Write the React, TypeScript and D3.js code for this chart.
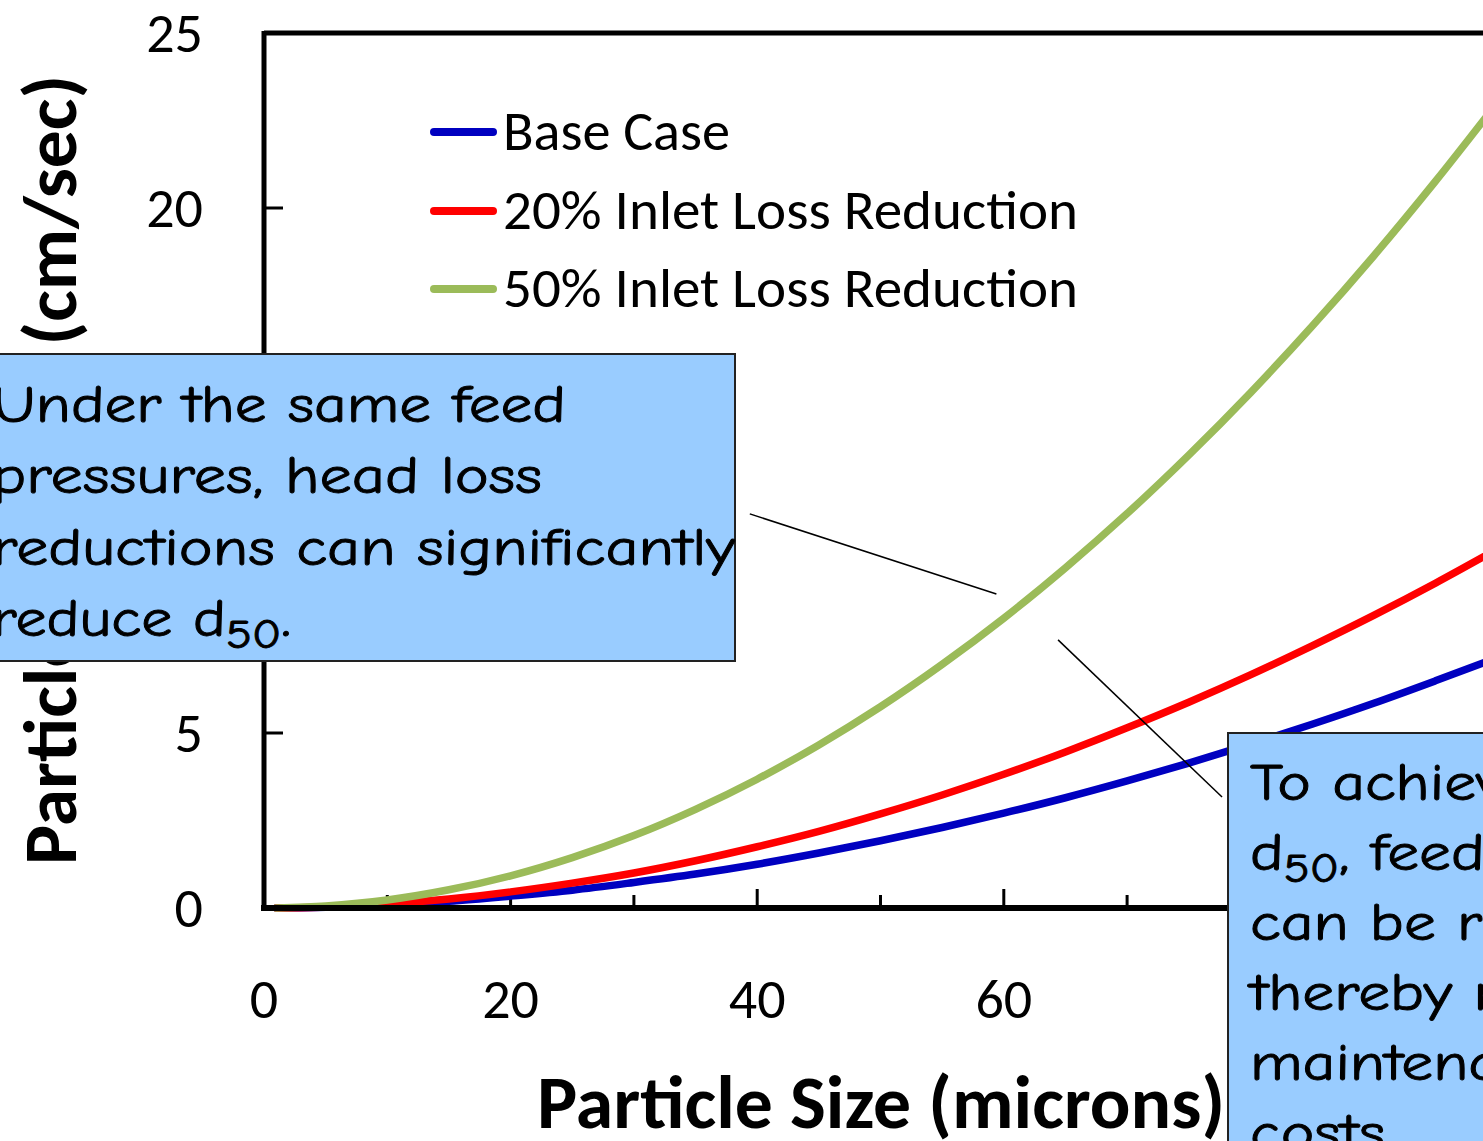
import React from "react";
import * as d3 from "d3";

// Particle size (microns) sampled along each curve
const particleSize = [1, 5, 10, 15, 20, 25, 30, 35, 40, 45, 50, 55, 60, 65, 70, 75, 80, 85, 90, 95, 100];
// Particle velocity (cm/sec) for each scenario
const baseCase = [0, 0.02, 0.09, 0.19, 0.34, 0.51, 0.73, 0.97, 1.25, 1.57, 1.92, 2.3, 2.71, 3.15, 3.63, 4.14, 4.68, 5.25, 5.85, 6.49, 7.15];
const inletLoss20 = [0, 0.03, 0.12, 0.26, 0.46, 0.71, 1.0, 1.35, 1.75, 2.19, 2.69, 3.23, 3.82, 4.46, 5.15, 5.88, 6.66, 7.49, 8.36, 9.28, 10.25];
const inletLoss50 = [0, 0.06, 0.23, 0.52, 0.92, 1.44, 2.07, 2.82, 3.68, 4.66, 5.75, 6.96, 8.28, 9.72, 11.27, 12.94, 14.72, 16.62, 18.63, 20.76, 23.0];

const seriesNames = ["Base Case", "20% Inlet Loss Reduction", "50% Inlet Loss Reduction"];
const seriesColors = ["#0000C0", "#FF0000", "#9BBB59"];

const xMajorTicks = [20, 40, 60, 80];
const xMinorTicks = [10, 30, 50, 70, 90];
// labelled ticks left uncovered by the callouts
const xTickLabels = [0, 20, 40, 60];
const yTicks = [5, 10, 15, 20];
const yTickLabels = [0, 5, 20, 25];

const xTitle = "Particle Size (microns)";
const yTitle = "Particle Velocity (cm/sec)";

const noteLeft = ["Under the same feed", "pressures, head loss", "reductions can significantly"];
const noteRight = ["To achieve the same", "d", "can be reduced,", "thereby reducing", "maintenance", "costs."];

const W = 1483;
const H = 1141;
const calibri = "Carlito, Calibri, Lato, 'Open Sans', sans-serif";
const comic = "'Comic Sans MS', 'Comic Neue', 'DejaVu Sans', sans-serif";
const noteStretch = 1.2;

export default function App() {
  const x = d3.scaleLinear().domain([0, 100]).range([264, 1497]);
  const y = d3.scaleLinear().domain([0, 25]).range([908, 33]);

  const series = [baseCase, inletLoss20, inletLoss50];
  const line = d3
    .line<[number, number]>()
    .x((d) => x(d[0]))
    .y((d) => y(d[1]))
    .curve(d3.curveMonotoneX);

  // callout leader lines, anchored in data units
  const leaders = [
    { x1: 39.4, y1: 11.26, x2: 59.4, y2: 8.97 },
    { x1: 64.4, y1: 7.66, x2: 77.7, y2: 3.17 },
  ];

  const legendY = [132, 211, 289];
  const legendWidths = [227, 575, 575];
  const leftWidths = [574, 550, 743];
  const noteStyle = {
    fontFamily: comic,
    fontSize: 53,
    fill: "#000",
    stroke: "#000",
    strokeWidth: 0.9,
  } as const;

  return (
    <svg
      width={W}
      height={H}
      style={{ position: "absolute", left: 0, top: 0, background: "#fff" }}
    >
      {/* plot frame: top edge and y axis */}
      <line x1={x(0)} x2={x(100)} y1={y(25)} y2={y(25)} stroke="#000" strokeWidth={5} />
      <line x1={x(0)} x2={x(0)} y1={y(25) - 2} y2={y(0)} stroke="#000" strokeWidth={5} />

      {/* y ticks */}
      {yTicks.map((t) => (
        <line key={"yt" + t} x1={x(0)} x2={x(0) + 19} y1={y(t)} y2={y(t)} stroke="#000" strokeWidth={3} />
      ))}
      {yTickLabels.map((t) => (
        <text
          key={"yl" + t}
          x={203}
          y={y(t) + 19}
          textAnchor="end"
          fontFamily={calibri}
          fontSize={56}
          fill="#000"
        >
          {t}
        </text>
      ))}

      {/* x ticks */}
      {xMajorTicks.map((t) => (
        <line key={"xt" + t} x1={x(t)} x2={x(t)} y1={y(0)} y2={y(0) - 19} stroke="#000" strokeWidth={3} />
      ))}
      {xMinorTicks.map((t) => (
        <line key={"xm" + t} x1={x(t)} x2={x(t)} y1={y(0)} y2={y(0) - 13} stroke="#000" strokeWidth={3} />
      ))}
      {xTickLabels.map((t) => (
        <text
          key={"xl" + t}
          x={x(t)}
          y={1018}
          textAnchor="middle"
          fontFamily={calibri}
          fontSize={56}
          fill="#000"
        >
          {t}
        </text>
      ))}

      {/* series curves */}
      {series.map((vals, i) => (
        <path
          key={"s" + i}
          d={line(particleSize.map((p, j) => [p, vals[j]] as [number, number])) || ""}
          fill="none"
          stroke={seriesColors[i]}
          strokeWidth={7.5}
          strokeLinecap="round"
        />
      ))}

      <line x1={x(0) - 3} x2={x(100)} y1={y(0)} y2={y(0)} stroke="#000" strokeWidth={6} />

      {/* legend */}
      {seriesNames.map((name, i) => (
        <g key={"lg" + i}>
          <line
            x1={434}
            x2={493}
            y1={legendY[i]}
            y2={legendY[i]}
            stroke={seriesColors[i]}
            strokeWidth={8}
            strokeLinecap="round"
          />
          <text
            x={503}
            y={legendY[i] + 18}
            fontFamily={calibri}
            fontSize={56}
            fill="#000"
            textLength={legendWidths[i]}
            lengthAdjust="spacingAndGlyphs"
          >
            {name}
          </text>
        </g>
      ))}

      {/* axis titles */}
      <text
        x={881}
        y={1128}
        textAnchor="middle"
        fontFamily={calibri}
        fontWeight="bold"
        fontSize={74}
        fill="#000"
        textLength={688}
        lengthAdjust="spacingAndGlyphs"
      >
        {xTitle}
      </text>
      <text
        transform="translate(76,470) rotate(-90)"
        textAnchor="middle"
        fontFamily={calibri}
        fontWeight="bold"
        fontSize={74}
        fill="#000"
        textLength={790}
        lengthAdjust="spacingAndGlyphs"
      >
        {yTitle}
      </text>

      {/* callout leaders */}
      {leaders.map((l, i) => (
        <line
          key={"ld" + i}
          x1={x(l.x1)}
          y1={y(l.y1)}
          x2={x(l.x2)}
          y2={y(l.y2)}
          stroke="#000"
          strokeWidth={1.5}
        />
      ))}

      {/* left callout */}
      <rect x={-10} y={354} width={745} height={307} fill="#99CCFF" stroke="#222" strokeWidth={2} />
      <g transform={`translate(-8,0) scale(${noteStretch},1)`}>
        {noteLeft.map((s, i) => (
          <text
            key={"nl" + i}
            x={0}
            y={422 + i * 71.5}
            {...noteStyle}
            textLength={leftWidths[i] / noteStretch}
            lengthAdjust="spacingAndGlyphs"
          >
            {s}
          </text>
        ))}
        <text x={0} y={636} {...noteStyle}>
          <tspan textLength={234 / noteStretch} lengthAdjust="spacingAndGlyphs">reduce d</tspan>
          <tspan fontSize={40} dy={12}>50</tspan>
          <tspan dy={-12}>.</tspan>
        </text>
      </g>

      {/* right callout */}
      <rect x={1228} y={733} width={270} height={420} fill="#99CCFF" stroke="#222" strokeWidth={2} />
      <g transform={`translate(1250,0) scale(${noteStretch},1)`}>
        {noteRight.map((s, i) =>
          i === 1 ? (
            <text key={"nr" + i} x={0} y={800 + i * 70} {...noteStyle}>
              d<tspan fontSize={40} dy={12}>50</tspan>
              <tspan dy={-12}>, feed pressures</tspan>
            </text>
          ) : (
            <text key={"nr" + i} x={0} y={800 + i * 70} {...noteStyle}>
              {s}
            </text>
          )
        )}
      </g>
    </svg>
  );
}
